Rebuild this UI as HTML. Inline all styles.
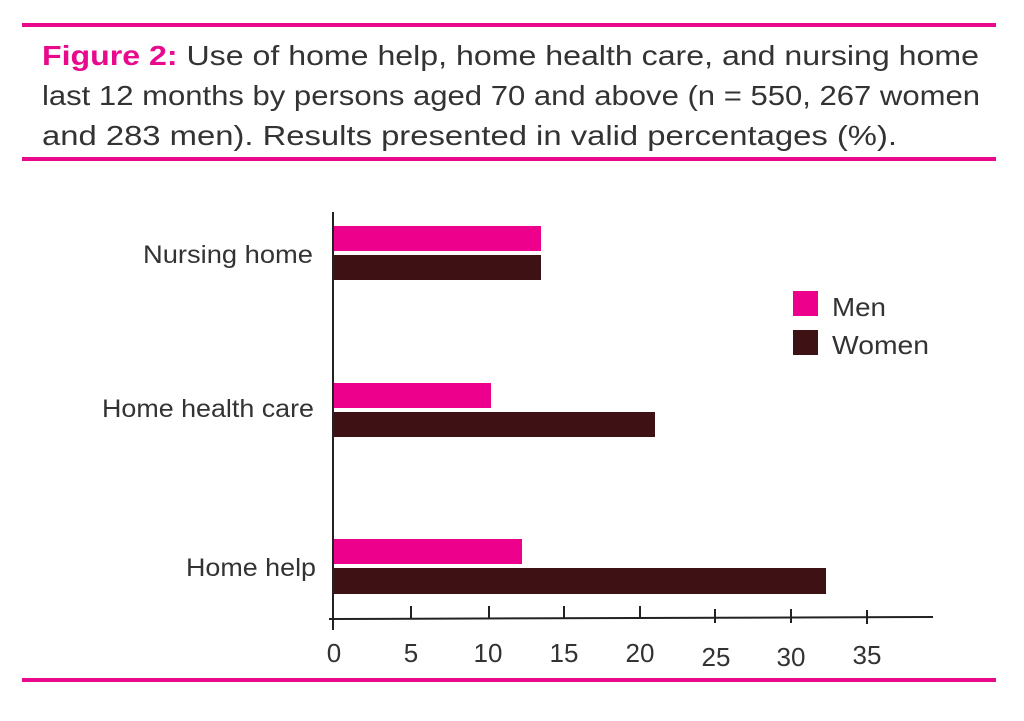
<!DOCTYPE html>
<html><head><style>body{margin:0;background:#fff}svg{display:block}</style></head><body>
<svg width="1024" height="721" xmlns="http://www.w3.org/2000/svg" font-family="Liberation Sans, sans-serif">
<rect x="22" y="23" width="974" height="4" fill="#e8098c"/>
<rect x="22" y="157" width="974" height="4" fill="#e8098c"/>
<rect x="22" y="678" width="974" height="4" fill="#e8098c"/>
<g font-size="28" fill="#333">
<text x="42" y="65" textLength="937" lengthAdjust="spacingAndGlyphs"><tspan fill="#e8098c" font-weight="bold">Figure 2:</tspan> Use of home help, home health care, and nursing home</text>
<text x="42" y="105" textLength="938" lengthAdjust="spacingAndGlyphs">last 12 months by persons aged 70 and above (n = 550, 267 women</text>
<text x="42" y="145" textLength="855" lengthAdjust="spacingAndGlyphs">and 283 men). Results presented in valid percentages (%).</text>
</g>
<rect x="334" y="226" width="207" height="25" fill="#ec008c"/>
<rect x="334" y="255" width="207" height="25" fill="#3e1214"/>
<rect x="334" y="383" width="157" height="25" fill="#ec008c"/>
<rect x="334" y="412" width="321" height="25" fill="#3e1214"/>
<rect x="334" y="539" width="188" height="25" fill="#ec008c"/>
<rect x="334" y="568" width="492" height="26" fill="#3e1214"/>
<g stroke="#222" stroke-width="2">
<line x1="333" y1="212" x2="333" y2="630"/>
<line x1="329" y1="619" x2="933" y2="617"/>
<line x1="411" y1="606" x2="411" y2="619"/>
<line x1="489" y1="606" x2="489" y2="619"/>
<line x1="564" y1="606" x2="564" y2="619"/>
<line x1="640" y1="606" x2="640" y2="618"/>
<line x1="715" y1="609" x2="715" y2="623"/>
<line x1="791" y1="609" x2="791" y2="623"/>
<line x1="867" y1="610" x2="867" y2="624"/>
</g>
<g font-size="26" fill="#333" text-anchor="middle">
<text x="334" y="662">0</text><text x="411" y="662">5</text><text x="488" y="662">10</text>
<text x="564" y="662">15</text><text x="640" y="662">20</text><text x="716" y="666">25</text>
<text x="791" y="666">30</text><text x="867" y="664">35</text>
</g>
<g font-size="25" fill="#333">
<text x="143" y="263" textLength="170" lengthAdjust="spacingAndGlyphs">Nursing home</text>
<text x="102" y="417" textLength="212" lengthAdjust="spacingAndGlyphs">Home health care</text>
<text x="186" y="576" textLength="130" lengthAdjust="spacingAndGlyphs">Home help</text>
</g>
<rect x="793" y="291" width="25" height="25" fill="#ec008c"/>
<rect x="793" y="330" width="25" height="25" fill="#3e1214"/>
<g font-size="26" fill="#333">
<text x="832" y="316" textLength="54" lengthAdjust="spacingAndGlyphs">Men</text>
<text x="832" y="354" textLength="97" lengthAdjust="spacingAndGlyphs">Women</text>
</g>
</svg>
</body></html>
